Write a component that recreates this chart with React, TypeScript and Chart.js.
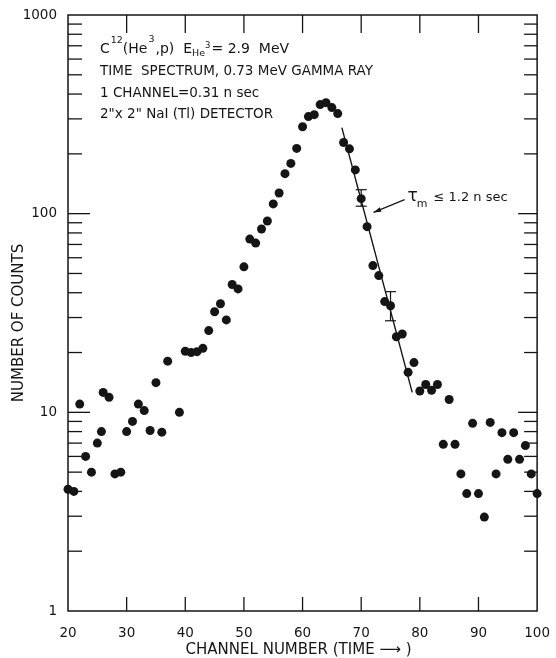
import React, { useEffect, useRef } from "react";
import { Chart, registerables } from "chart.js";

Chart.register(...registerables);

// ---- data ----
const channels = [
  20, 21, 22, 23, 24, 25, 25.7, 26, 27, 28, 29, 30, 31, 32, 33, 34, 35, 36, 37,
  39, 40, 41, 42, 43, 44, 45, 46, 47, 48, 49, 50, 51, 52, 53, 54, 55, 56, 57, 58, 59,
  60, 61, 62, 63, 64, 65, 66, 67, 68, 69, 70, 71, 72, 73, 74, 75, 76, 77, 78, 79,
  80, 81, 82, 83, 84, 85, 86, 87, 88, 89, 90, 91, 92, 93, 94, 95, 96, 97, 98, 99, 100,
];
const counts = [
  4.1, 4.0, 11, 6.0, 5.0, 7.0, 8.0, 12.6, 11.9, 4.9, 5.0, 8.0, 9.0, 11, 10.2, 8.1, 14.1, 7.95, 18.1,
  10, 20.3, 20.0, 20.2, 21, 25.8, 32.1, 35.2, 29.2, 44, 41.8, 54, 74.5, 71.1, 83.7, 91.9, 112, 127, 159, 179, 213,
  274, 308, 315, 354, 362, 342, 319, 228, 212, 166, 119, 86, 54.8, 48.8, 36.1, 34.4, 24.0, 24.8, 15.9, 17.8,
  12.8, 13.8, 12.9, 13.8, 6.9, 11.6, 6.9, 4.9, 3.9, 8.8, 3.9, 2.97, 8.9, 4.9, 7.9, 5.8, 7.9, 5.8, 6.8, 4.9, 3.9,
];
const fitChannels = [66.7, 78.7];
const fitCounts = [271, 12.6];
const errChannels = [70, 75];
const errLow = [109, 28.9];
const errHigh = [132, 40.5];
const xTickValues = [20, 30, 40, 50, 60, 70, 80, 90, 100];
const yTickValues = [1, 10, 100, 1000];
const yMinorMultipliers = [2, 3, 4, 5, 6, 7, 8, 9];
const arrowFrom = [77.4, 117.7]; // channel, counts
const arrowTo = [72.1, 101.5];

const xTitle = "CHANNEL NUMBER (TIME \u27F6 )";
const yTitle = "NUMBER OF COUNTS";
const infoLines = [
  "TIME  SPECTRUM, 0.73 MeV GAMMA RAY",
  "1 CHANNEL=0.31 n sec",
  "2\"x 2\" NaI (Tl) DETECTOR",
];

const INK = "#151515";
const FONT = '"DejaVu Sans", sans-serif';

type Run = { t: string; size: number; dy?: number; gap?: number };

function drawRuns(ctx: CanvasRenderingContext2D, x: number, y: number, runs: Run[]) {
  let cx = x;
  for (const r of runs) {
    ctx.font = `${r.size}px ${FONT}`;
    ctx.fillText(r.t, cx, y + (r.dy || 0));
    cx += ctx.measureText(r.t).width + (r.gap || 0);
  }
}

const paperPlugin = {
  id: "paper",
  afterDatasetsDraw(chart: any) {
    const { ctx, chartArea: a, scales } = chart;
    const xs = scales.x;
    const ys = scales.y;
    const line = (x1: number, y1: number, x2: number, y2: number) => {
      ctx.beginPath();
      ctx.moveTo(x1, y1);
      ctx.lineTo(x2, y2);
      ctx.stroke();
    };
    ctx.save();
    ctx.strokeStyle = INK;
    ctx.fillStyle = INK;

    // frame
    ctx.lineWidth = 1.5;
    ctx.strokeRect(a.left, a.top, a.right - a.left, a.bottom - a.top);

    // x ticks (inward, bottom and top)
    ctx.lineWidth = 1.3;
    xTickValues.forEach((v) => {
      if (v === xTickValues[0] || v === xTickValues[xTickValues.length - 1]) return;
      const px = xs.getPixelForValue(v);
      line(px, a.bottom, px, a.bottom - 14);
      line(px, a.top, px, a.top + 18);
    });

    // y ticks (inward, left and right)
    for (let i = 0; i < yTickValues.length - 1; i++) {
      const d = yTickValues[i];
      if (i > 0) {
        const py = ys.getPixelForValue(d);
        line(a.left, py, a.left + 22, py);
        line(a.right, py, a.right - 19, py);
      }
      yMinorMultipliers.forEach((m) => {
        const py = ys.getPixelForValue(d * m);
        line(a.left, py, a.left + 14, py);
        line(a.right, py, a.right - 13, py);
      });
    }

    // error bars
    ctx.lineWidth = 1.2;
    errChannels.forEach((c, i) => {
      const px = xs.getPixelForValue(c);
      const y1 = ys.getPixelForValue(errHigh[i]);
      const y2 = ys.getPixelForValue(errLow[i]);
      line(px, y1, px, y2);
      line(px - 5.5, y1, px + 5.5, y1);
      line(px - 5.5, y2, px + 5.5, y2);
    });

    // arrow
    const ax1 = xs.getPixelForValue(arrowFrom[0]);
    const ay1 = ys.getPixelForValue(arrowFrom[1]);
    const ax2 = xs.getPixelForValue(arrowTo[0]);
    const ay2 = ys.getPixelForValue(arrowTo[1]);
    ctx.lineWidth = 1.2;
    line(ax1, ay1, ax2, ay2);
    const ang = Math.atan2(ay2 - ay1, ax2 - ax1);
    ctx.beginPath();
    ctx.moveTo(ax2, ay2);
    ctx.lineTo(ax2 - 8 * Math.cos(ang - 0.3), ay2 - 8 * Math.sin(ang - 0.3));
    ctx.lineTo(ax2 - 8 * Math.cos(ang + 0.3), ay2 - 8 * Math.sin(ang + 0.3));
    ctx.closePath();
    ctx.fill();

    // tau label
    ctx.textAlign = "left";
    ctx.textBaseline = "alphabetic";
    drawRuns(ctx, ax1 + 3, ay1 + 1, [
      { t: "\u03C4", size: 17, gap: -1 },
      { t: "m", size: 11, dy: 6, gap: 6 },
      { t: "\u2264 1.2 n sec", size: 13 },
    ]);

    // info block
    const tx = a.left + 32;
    drawRuns(ctx, tx, a.top + 38, [
      { t: "C", size: 14, gap: 1 },
      { t: "12", size: 9.5, dy: -10 },
      { t: "(He", size: 14, gap: 1 },
      { t: "3", size: 9.5, dy: -11, gap: 1 },
      { t: ",p)  E", size: 14 },
      { t: "He", size: 9.5, dy: 3 },
      { t: "3", size: 8.5, dy: -5, gap: 1 },
      { t: "= 2.9  MeV", size: 14 },
    ]);
    ctx.font = `13.5px ${FONT}`;
    infoLines.forEach((s, i) => ctx.fillText(s, tx, a.top + 60 + i * 21.7));

    // axis titles
    ctx.font = `15px ${FONT}`;
    ctx.textAlign = "center";
    ctx.textBaseline = "alphabetic";
    ctx.fillText(xTitle, (a.left + a.right) / 2 - 4, 654);
    ctx.save();
    ctx.translate(23, (a.top + a.bottom) / 2 + 10);
    ctx.rotate(-Math.PI / 2);
    ctx.fillText(yTitle, 0, 0);
    ctx.restore();

    ctx.restore();
  },
};

export default function App() {
  const ref = useRef<HTMLCanvasElement>(null);
  useEffect(() => {
    const canvas = ref.current;
    if (!canvas) return;
    const chart = new Chart(canvas, {
      type: "scatter",
      data: {
        datasets: [
          {
            type: "scatter",
            data: channels.map((c, i) => ({ x: c, y: counts[i] })),
            pointRadius: 4.5,
            pointBackgroundColor: INK,
            pointBorderWidth: 0,
            pointHoverRadius: 4.5,
            clip: false,
          } as any,
          {
            type: "line",
            data: fitChannels.map((c, i) => ({ x: c, y: fitCounts[i] })),
            borderColor: INK,
            borderWidth: 1.4,
            pointRadius: 0,
            fill: false,
            tension: 0,
          } as any,
        ],
      },
      options: {
        animation: false,
        responsive: false,
        devicePixelRatio: 1,
        layout: { padding: { top: 15, right: 12, left: 0, bottom: 0 } },
        plugins: { legend: { display: false }, tooltip: { enabled: false } },
        scales: {
          x: {
            type: "linear",
            position: "bottom",
            min: 20,
            max: 100,
            afterBuildTicks: (s: any) => {
              s.ticks = xTickValues.map((v) => ({ value: v }));
            },
            afterFit: (s: any) => {
              s.height = 47;
            },
            grid: { display: false },
            border: { display: false },
            ticks: {
              color: INK,
              font: { family: FONT, size: 13.5 },
              padding: 6,
              maxRotation: 0,
              autoSkip: false,
              callback: (v: any) => String(v),
            },
          },
          y: {
            type: "logarithmic",
            min: 1,
            max: 1000,
            afterBuildTicks: (s: any) => {
              s.ticks = yTickValues.map((v) => ({ value: v }));
            },
            afterFit: (s: any) => {
              s.width = 68;
            },
            grid: { display: false },
            border: { display: false },
            ticks: {
              color: INK,
              font: { family: FONT, size: 13.5 },
              padding: 3,
              autoSkip: false,
              callback: (v: any) => String(v),
            },
          },
        },
      } as any,
      plugins: [paperPlugin],
    });
    return () => chart.destroy();
  }, []);
  return (
    <div style={{ position: "absolute", left: 0, top: 0, width: 556, height: 658, background: "#fff" }}>
      <canvas ref={ref} width={556} height={658} style={{ display: "block" }} />
    </div>
  );
}
